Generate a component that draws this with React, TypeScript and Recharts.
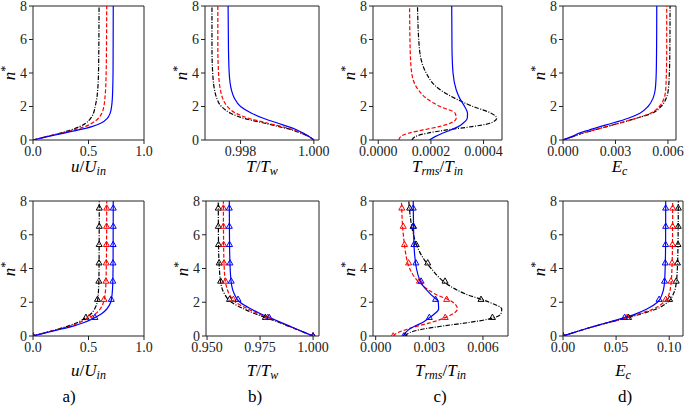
import React from "react";
import { ComposedChart, Line, Scatter, XAxis, YAxis, ReferenceArea } from "recharts";

const FONT = "'Liberation Serif', 'DejaVu Serif', serif";

// wall-normal distance samples
const nGrid = [0, 0.2, 0.4, 0.6, 0.8, 1.0, 1.3, 1.6, 2.0, 2.5, 3.0, 4.0, 5.5, 8];
const nMarks = [0, 1.1, 2.17, 3.25, 4.33, 5.42, 6.5, 7.58];
const nTicks = [0, 2, 4, 6, 8];

// top row
const uTopBlue = [0, 0.13, 0.27, 0.41, 0.53, 0.61, 0.67, 0.695, 0.708, 0.715, 0.718, 0.721, 0.722, 0.723];
const uTopRed = [0, 0.12, 0.25, 0.37, 0.47, 0.53, 0.59, 0.62, 0.638, 0.648, 0.654, 0.659, 0.662, 0.664];
const uTopBlack = [0, 0.12, 0.24, 0.34, 0.42, 0.475, 0.52, 0.545, 0.56, 0.575, 0.583, 0.59, 0.593, 0.595];

const tTopBlue = [1.0, 0.99988, 0.99972, 0.99954, 0.9993, 0.99902, 0.99862, 0.9983, 0.998, 0.99783, 0.99775, 0.99769, 0.99767, 0.99766];
const tTopRed = [1.0, 0.99987, 0.99968, 0.99944, 0.99912, 0.99875, 0.99822, 0.99787, 0.99764, 0.99751, 0.99745, 0.9974, 0.99738, 0.99738];
const tTopBlack = [1.0, 0.99986, 0.99966, 0.9994, 0.99905, 0.99866, 0.99808, 0.99773, 0.99748, 0.99735, 0.99729, 0.99724, 0.99722, 0.99722];

const rmsTopBlue = [0.000194, 0.000216, 0.000244, 0.000275, 0.000304, 0.000322, 0.000338, 0.000339, 0.000328, 0.000309, 0.000296, 0.000284, 0.00028, 0.000279];
const rmsTopRed = [0.000078, 0.000085, 0.000114, 0.000171, 0.000231, 0.000273, 0.000296, 0.000292, 0.000235, 0.000182, 0.000152, 0.000127, 0.000121, 0.000119];
const rmsTopBlack = [0.000128, 0.00014, 0.000184, 0.00026, 0.000356, 0.000424, 0.00045, 0.000429, 0.00036, 0.00029, 0.000235, 0.000182, 0.000156, 0.000149];

const ecTopBlue = [0, 0.0005, 0.0009, 0.0015, 0.00212, 0.0028, 0.00373, 0.0044, 0.00486, 0.00515, 0.00527, 0.00533, 0.00535, 0.00536];
const ecTopRed = [0, 0.00055, 0.0011, 0.0018, 0.0025, 0.0032, 0.0042, 0.005, 0.0055, 0.00578, 0.00587, 0.00591, 0.00593, 0.00593];
const ecTopBlack = [0, 0.00055, 0.0011, 0.0018, 0.0025, 0.0032, 0.0042, 0.0051, 0.0056, 0.0059, 0.00602, 0.00608, 0.00611, 0.00612];

// bottom row
const uBotBlue = [0, 0.12, 0.25, 0.37, 0.46, 0.53, 0.615, 0.665, 0.7, 0.713, 0.718, 0.721, 0.722, 0.723];
const uBotRed = [0, 0.11, 0.23, 0.34, 0.42, 0.48, 0.56, 0.605, 0.635, 0.65, 0.656, 0.66, 0.663, 0.664];
const uBotBlack = [0, 0.11, 0.22, 0.32, 0.4, 0.455, 0.52, 0.555, 0.578, 0.588, 0.592, 0.595, 0.596, 0.597];
const uMarkBlue = [0, 0.558, 0.705, 0.719, 0.721, 0.722, 0.723, 0.723];
const uMarkRed = [0, 0.507, 0.64, 0.657, 0.66, 0.662, 0.663, 0.664];
const uMarkBlack = [0, 0.477, 0.581, 0.593, 0.595, 0.596, 0.597, 0.597];

const tBotBlue = [1.0, 0.9962, 0.9924, 0.9887, 0.985, 0.9812, 0.9755, 0.9708, 0.9655, 0.9628, 0.9616, 0.9609, 0.9606, 0.9605];
const tBotRed = [1.0, 0.9961, 0.9922, 0.9884, 0.9846, 0.9806, 0.9745, 0.9693, 0.9635, 0.9604, 0.959, 0.9581, 0.9578, 0.9577];
const tBotBlack = [1.0, 0.996, 0.992, 0.988, 0.984, 0.9797, 0.973, 0.9675, 0.9615, 0.9582, 0.9567, 0.9558, 0.9554, 0.9553];
const tMarkBlue = [1.0, 0.9793, 0.9646, 0.9614, 0.9608, 0.9606, 0.9605, 0.9605];
const tMarkRed = [1.0, 0.9786, 0.9624, 0.9587, 0.958, 0.9578, 0.9577, 0.9577];
const tMarkBlack = [1.0, 0.9775, 0.9606, 0.9564, 0.9557, 0.9554, 0.9553, 0.9553];

const rmsBotBlue = [0.00157, 0.00167, 0.00188, 0.00222, 0.00262, 0.0029, 0.00328, 0.00352, 0.0035, 0.00305, 0.00263, 0.00228, 0.00214, 0.0021];
const rmsBotRed = [0.00098, 0.00125, 0.00175, 0.00238, 0.0031, 0.00368, 0.0043, 0.00457, 0.00432, 0.0033, 0.00262, 0.0019, 0.0016, 0.00144];
const rmsBotBlack = [0.00165, 0.0019, 0.0026, 0.0038, 0.0052, 0.0063, 0.007, 0.00705, 0.00635, 0.005, 0.0041, 0.0031, 0.00225, 0.00185];
const rmsMarkBlue = [0.00157, 0.003, 0.00335, 0.00254, 0.00225, 0.00214, 0.00212, 0.0021];
const rmsMarkRed = [0.00098, 0.00389, 0.00397, 0.00245, 0.00184, 0.00161, 0.00154, 0.00146];
const rmsMarkBlack = [0.00165, 0.00653, 0.00589, 0.00388, 0.00291, 0.00227, 0.00209, 0.0019];

const ecBotBlue = [0, 0.01, 0.02, 0.031, 0.042, 0.053, 0.068, 0.079, 0.089, 0.0935, 0.0953, 0.0962, 0.0966, 0.0967];
const ecBotRed = [0, 0.01, 0.02, 0.031, 0.043, 0.055, 0.071, 0.085, 0.095, 0.1, 0.1015, 0.1026, 0.1031, 0.1033];
const ecBotBlack = [0, 0.01, 0.02, 0.031, 0.043, 0.056, 0.073, 0.088, 0.0985, 0.104, 0.1063, 0.1077, 0.1083, 0.1086];
const ecMarkBlue = [0, 0.058, 0.0905, 0.0956, 0.0963, 0.0966, 0.0967, 0.0967];
const ecMarkRed = [0, 0.0603, 0.0967, 0.1017, 0.1027, 0.1031, 0.1032, 0.1033];
const ecMarkBlack = [0, 0.0617, 0.1004, 0.1066, 0.1078, 0.1083, 0.1085, 0.1086];

// x ticks
const uTicks = [0, 0.5, 1.0];
const tTopTicks = [0.998, 1.0];
const rmsTopTicks = [0, 0.0002, 0.0004];
const ecTopTicks = [0, 0.003, 0.006];
const tBotTicks = [0.95, 0.975, 1.0];
const rmsBotTicks = [0, 0.003, 0.006];
const ecBotTicks = [0, 0.05, 0.1];

const BLUE = "#0000ff";
const RED = "#ff0000";
const BLACK = "#000000";
const RED_DASH = "4 2";
const BLACK_DASH = "4.5 1.5 1 1.5";

type Curve = { color: string; dash?: string; x: number[]; marks?: number[] };

const zip = (ns: number[], xs: number[]) => ns.map((n, i) => ({ n, x: xs[i] }));

const YW = 42;
const MT = 8;
const MR = 24;
const XH = 26;

function Triangle(props: any) {
  const { cx, cy, color } = props;
  if (cx == null || cy == null) return null;
  return (
    <polygon
      points={`${cx},${cy - 3.3} ${cx - 3},${cy + 2} ${cx + 3},${cy + 2}`}
      fill="none"
      stroke={color}
      strokeWidth={1}
    />
  );
}

function Panel(props: {
  left: number;
  top: number;
  width: number;
  height: number;
  domain: [number, number];
  ticks: number[];
  digits: number;
  curves: Curve[];
  label: React.ReactNode;
  labelY: number;
}) {
  const { left, top, width, height, domain, ticks, digits, curves, label, labelY } = props;
  const tickStyle = { fontSize: 14, fill: "#222", fontFamily: FONT };
  return (
    <>
      <div style={{ position: "absolute", left: left - YW, top: top - MT }}>
        <ComposedChart
          width={YW + width + MR}
          height={MT + height + XH}
          margin={{ top: MT, right: MR, bottom: 0, left: 0 }}
        >
          <XAxis
            type="number"
            dataKey="x"
            domain={domain}
            allowDataOverflow
            ticks={ticks}
            interval={0}
            tickFormatter={(v: number) => v.toFixed(digits)}
            tick={tickStyle}
            tickSize={4}
            tickLine={{ stroke: "#222" }}
            axisLine={false}
            height={XH}
          />
          <YAxis
            type="number"
            dataKey="n"
            domain={[0, 8]}
            allowDataOverflow
            ticks={nTicks}
            interval={0}
            tick={tickStyle}
            tickSize={4}
            tickLine={{ stroke: "#222" }}
            axisLine={false}
            width={YW}
          />
          <ReferenceArea
            x1={domain[0]}
            x2={domain[1]}
            y1={0}
            y2={8}
            fill="none"
            fillOpacity={0}
            stroke="#222"
            strokeWidth={1}
          />
          {curves.map((c, i) => (
            <Line
              key={`l${i}`}
              data={zip(nGrid, c.x)}
              dataKey="n"
              type="monotoneY"
              stroke={c.color}
              strokeWidth={1.2}
              strokeDasharray={c.dash}
              dot={false}
              activeDot={false}
              isAnimationActive={false}
            />
          ))}
          {curves
            .filter((c) => c.marks)
            .map((c, i) => (
              <Scatter
                key={`s${i}`}
                data={zip(nMarks, c.marks as number[])}
                shape={(p: any) => <Triangle {...p} color={c.color} />}
                isAnimationActive={false}
              />
            ))}
        </ComposedChart>
      </div>
      <div
        style={{
          position: "absolute",
          left: left - 23,
          top: top + height / 2,
          transform: "translate(-50%, -50%) rotate(-90deg)",
          fontFamily: FONT,
          fontSize: 17,
          whiteSpace: "nowrap",
        }}
      >
        <i>n</i>
        <span style={{ fontSize: 12, position: "relative", top: -6 }}>*</span>
      </div>
      <div
        style={{
          position: "absolute",
          left: left + width / 2,
          top: labelY,
          transform: "translate(-50%, -50%)",
          fontFamily: FONT,
          fontSize: 17,
          whiteSpace: "nowrap",
          lineHeight: "18px",
        }}
      >
        {label}
      </div>
    </>
  );
}

const Sub = ({ children }: { children: React.ReactNode }) => (
  <span style={{ fontSize: 12, fontStyle: "italic", position: "relative", top: 3 }}>{children}</span>
);

const uLabel = (
  <>
    <i>u</i>/<i>U</i>
    <Sub>in</Sub>
  </>
);
const tLabel = (
  <>
    <i>T</i>/<i>T</i>
    <Sub>w</Sub>
  </>
);
const rmsLabel = (
  <>
    <i>T</i>
    <Sub>rms</Sub>/<i>T</i>
    <Sub>in</Sub>
  </>
);
const ecLabel = (
  <>
    <i>E</i>
    <Sub>c</Sub>
  </>
);

const letters = ["a)", "b)", "c)", "d)"];
const letterX = [69, 255, 440, 625];

export default function App() {
  const topY = 6;
  const topH = 134;
  const botY = 201;
  const botH = 135;
  return (
    <div
      style={{
        position: "absolute",
        left: 0,
        top: 0,
        width: 685,
        height: 412,
        background: "#fff",
        overflow: "hidden",
      }}
    >
      <Panel
        left={33} top={topY} width={111} height={topH}
        domain={[0, 1]} ticks={uTicks} digits={1}
        curves={[
          { color: BLACK, dash: BLACK_DASH, x: uTopBlack },
          { color: RED, dash: RED_DASH, x: uTopRed },
          { color: BLUE, x: uTopBlue },
        ]}
        label={uLabel} labelY={167}
      />
      <Panel
        left={205} top={topY} width={114} height={topH}
        domain={[0.99703, 1.00014]} ticks={tTopTicks} digits={3}
        curves={[
          { color: BLACK, dash: BLACK_DASH, x: tTopBlack },
          { color: RED, dash: RED_DASH, x: tTopRed },
          { color: BLUE, x: tTopBlue },
        ]}
        label={tLabel} labelY={167}
      />
      <Panel
        left={373} top={topY} width={129} height={topH}
        domain={[-0.00002, 0.00047]} ticks={rmsTopTicks} digits={4}
        curves={[
          { color: BLACK, dash: BLACK_DASH, x: rmsTopBlack },
          { color: RED, dash: RED_DASH, x: rmsTopRed },
          { color: BLUE, x: rmsTopBlue },
        ]}
        label={rmsLabel} labelY={167}
      />
      <Panel
        left={563} top={topY} width={113} height={topH}
        domain={[0, 0.00646]} ticks={ecTopTicks} digits={3}
        curves={[
          { color: BLACK, dash: BLACK_DASH, x: ecTopBlack },
          { color: RED, dash: RED_DASH, x: ecTopRed },
          { color: BLUE, x: ecTopBlue },
        ]}
        label={ecLabel} labelY={167}
      />

      <Panel
        left={33} top={botY} width={111} height={botH}
        domain={[0, 1]} ticks={uTicks} digits={1}
        curves={[
          { color: BLACK, dash: BLACK_DASH, x: uBotBlack, marks: uMarkBlack },
          { color: RED, dash: RED_DASH, x: uBotRed, marks: uMarkRed },
          { color: BLUE, x: uBotBlue, marks: uMarkBlue },
        ]}
        label={uLabel} labelY={371}
      />
      <Panel
        left={206} top={botY} width={113} height={botH}
        domain={[0.9495, 1.0028]} ticks={tBotTicks} digits={3}
        curves={[
          { color: BLACK, dash: BLACK_DASH, x: tBotBlack, marks: tMarkBlack },
          { color: RED, dash: RED_DASH, x: tBotRed, marks: tMarkRed },
          { color: BLUE, x: tBotBlue, marks: tMarkBlue },
        ]}
        label={tLabel} labelY={371}
      />
      <Panel
        left={373} top={botY} width={135} height={botH}
        domain={[-0.00015, 0.0074]} ticks={rmsBotTicks} digits={3}
        curves={[
          { color: BLACK, dash: BLACK_DASH, x: rmsBotBlack, marks: rmsMarkBlack },
          { color: RED, dash: RED_DASH, x: rmsBotRed, marks: rmsMarkRed },
          { color: BLUE, x: rmsBotBlue, marks: rmsMarkBlue },
        ]}
        label={rmsLabel} labelY={371}
      />
      <Panel
        left={563} top={botY} width={120} height={botH}
        domain={[0, 0.113]} ticks={ecBotTicks} digits={2}
        curves={[
          { color: BLACK, dash: BLACK_DASH, x: ecBotBlack, marks: ecMarkBlack },
          { color: RED, dash: RED_DASH, x: ecBotRed, marks: ecMarkRed },
          { color: BLUE, x: ecBotBlue, marks: ecMarkBlue },
        ]}
        label={ecLabel} labelY={371}
      />

      {letters.map((t, i) => (
        <div
          key={t}
          style={{
            position: "absolute",
            left: letterX[i],
            top: 397,
            transform: "translate(-50%, -50%)",
            fontFamily: FONT,
            fontSize: 17,
          }}
        >
          {t}
        </div>
      ))}
    </div>
  );
}
